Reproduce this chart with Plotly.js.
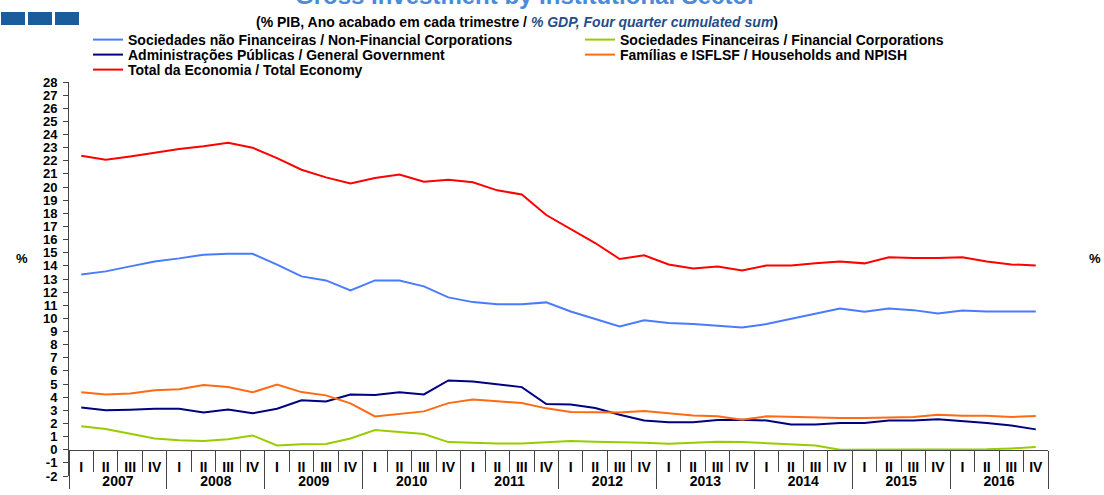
<!DOCTYPE html>
<html><head><meta charset="utf-8">
<script src="https://cdn.plot.ly/plotly-3.0.1.min.js"></script>
<style>html,body{margin:0;padding:0;background:#fff}#chart{width:1104px;height:495px}</style>
</head><body><div id="chart"></div>
<script>
const years = ['2007','2008','2009','2010','2011','2012','2013','2014','2015','2016'];
const quarters = ['I','II','III','IV'];
const nfc = [13.35,13.58,13.96,14.34,14.57,14.85,14.92,14.92,14.09,13.2, 12.89,12.13,12.89,12.89,12.44,11.6,11.24,11.07,11.07,11.22, 10.53,9.95,9.39,9.85,9.65,9.57,9.42,9.31,9.57,9.97, 10.36,10.76,10.51,10.76,10.63,10.38,10.61,10.53,10.53,10.53];
const fc = [1.78,1.57,1.22,0.86,0.73,0.66,0.79,1.09,0.33,0.41, 0.43,0.86,1.5,1.34,1.19,0.58,0.51,0.48,0.48,0.58, 0.66,0.61,0.58,0.53,0.46,0.53,0.61,0.58,0.48,0.41, 0.33,0.0,0.0,0.0,0.03,0.03,0.03,0.03,0.1,0.2];
const gg = [3.22,3.0,3.05,3.12,3.12,2.84,3.07,2.77,3.12,3.76, 3.68,4.21,4.16,4.37,4.21,5.28,5.2,4.97,4.77,3.48, 3.45,3.17,2.66,2.23,2.1,2.1,2.26,2.28,2.23,1.93, 1.93,2.03,2.03,2.23,2.23,2.33,2.2,2.03,1.85,1.55];
const hh = [4.37,4.21,4.29,4.52,4.6,4.92,4.77,4.37,4.97,4.39, 4.14,3.53,2.54,2.71,2.92,3.55,3.83,3.7,3.55,3.15, 2.87,2.85,2.84,2.94,2.79,2.61,2.54,2.28,2.54,2.49, 2.49,2.41,2.41,2.46,2.49,2.66,2.59,2.59,2.49,2.56];
const total = [22.39,22.08,22.33,22.64,22.9,23.1,23.38,23.0,22.2,21.32, 20.74,20.28,20.69,20.96,20.41,20.56,20.36,19.75,19.44,17.87, 16.8,15.74,14.52,14.8,14.11,13.8,13.96,13.65,14.03,14.03, 14.19,14.34,14.19,14.65,14.59,14.59,14.65,14.34,14.11,14.03];
const names = ['Sociedades não Financeiras / Non-Financial Corporations','Sociedades Financeiras / Financial Corporations','Administrações Públicas / General Government','Famílias e ISFLSF / Households and NPISH','Total da Economia / Total Economy'];
const colors = ['#4a7bff','#99cc00','#000080','#ff6a13','#ff0000'];

const xYears = [], xQ = [];
years.forEach(y => quarters.forEach(q => { xYears.push(y); xQ.push(q); }));

const L=69, R=1048, T=82, B=476, pw=R-L, ph=B-T;
const px = x => (x-L)/pw, py = y => (B-y)/ph;

const F = 'Liberation Sans, Arial, sans-serif';
const legendIds = ['legend','legend2','legend3','legend4','legend5'];
const legendPos = [[88,40],[580,40],[88,55],[580,55],[88,70]];

const series = [nfc, fc, gg, hh, total];
const traces = series.map((v,i) => ({
  x: [xYears, xQ], y: v, type: 'scatter', mode: 'lines', name: names[i],
  line: {color: colors[i], width: 2}, hoverinfo: 'skip', legend: legendIds[i]
}));

const tickFont = {family: F, size: 13, color: '#000', weight: 'bold'};
const leftTicks = []; for (let v=-2; v<=28; v++) leftTicks.push(v);
const rightTicks = []; for (let v=0; v<=28; v++) rightTicks.push(v);

const layout = {
  width: 1104, height: 495,
  margin: {l: L, r: 1104-R, t: T, b: 495-B, autoexpand: false},
  paper_bgcolor: '#fff', plot_bgcolor: '#fff',
  showlegend: true,
  title: {text: "(% PIB, Ano acabado em cada trimestre / <i><span style='color:#1f4e8c'>% GDP, Four quarter cumulated sum</span></i>)",
    x: 517/1104, xanchor: 'center', xref: 'container', y: 1-22/495, yanchor: 'middle', yref: 'container',
    font: {family: F, size: 14, color: '#000', weight: 'bold'}},
  xaxis: {type: 'multicategory', anchor: 'free', position: 2/30, range: [-0.5, 39.5], autorange: false,
    showline: true, linecolor: '#444', linewidth: 1, ticks: 'outside', ticklen: 21, tickcolor: '#444',
    tickson: 'boundaries', showdividers: true, dividercolor: '#444', dividerwidth: 1, ticklabelstandoff: 4,
    showgrid: false, zeroline: false, tickfont: {family: F, size: 14, color: '#000', weight: 'bold'}, automargin: false},
  yaxis: {range: [-2, 28], tickmode: 'array', tickvals: leftTicks, ticktext: leftTicks.map(String),
    showline: true, linecolor: '#444', linewidth: 1, ticks: 'outside', ticklen: 5, tickcolor: '#444', ticklabelstandoff: 3,
    showgrid: false, zeroline: false, tickfont: tickFont, automargin: false},
  yaxis2: {range: [0, 28], overlaying: 'y', side: 'right', anchor: 'x', tickmode: 'array',
    tickvals: rightTicks, ticktext: rightTicks.map(String), ticklabelstandoff: 6,
    showline: true, linecolor: '#444', linewidth: 1, ticks: 'outside', ticklen: 5, tickcolor: '#444',
    showgrid: false, zeroline: false, tickfont: tickFont, automargin: false},
  yaxis3: {range: [-2, 28], overlaying: 'y', side: 'left', anchor: 'x', tickmode: 'array', tickvals: leftTicks,
    showticklabels: false, ticks: 'inside', ticklen: 5, tickcolor: '#444', showline: false, showgrid: false, zeroline: false},
  yaxis4: {range: [0, 28], overlaying: 'y', side: 'right', anchor: 'x', tickmode: 'array', tickvals: rightTicks,
    showticklabels: false, ticks: 'inside', ticklen: 5, tickcolor: '#444', showline: false, showgrid: false, zeroline: false},
  annotations: [
    {text: '%', xref: 'paper', yref: 'paper', x: px(14), y: py(258), xanchor: 'left', showarrow: false,
     font: {family: F, size: 13, color: '#000', weight: 'bold'}},
    {text: '%', xref: 'paper', yref: 'paper', x: px(1103), y: py(258), xanchor: 'right', showarrow: false,
     font: {family: F, size: 13, color: '#000', weight: 'bold'}},
    {text: 'Gross Investment by Institutional Sector', xref: 'paper', yref: 'paper', x: px(525), y: py(11),
     xanchor: 'center', yanchor: 'bottom', showarrow: false,
     font: {family: F, size: 24, color: '#4a8ad8', weight: 'bold'}}
  ],
  shapes: [0,1,2].map(i => ({type: 'rect', xref: 'paper', yref: 'paper',
    x0: px(1 + i*27), x1: px(25 + i*27), y0: py(25), y1: py(12),
    fillcolor: '#1b5c9c', line: {width: 0}}))
};
legendIds.forEach((id, i) => {
  layout[id] = {orientation: 'v', x: px(legendPos[i][0]), y: py(legendPos[i][1]), xanchor: 'left', yanchor: 'middle',
    itemwidth: 30, bgcolor: 'rgba(0,0,0,0)', borderwidth: 0,
    font: {family: F, size: 14, color: '#000', weight: 'bold'}};
});

Plotly.newPlot('chart', traces, layout, {staticPlot: true, displayModeBar: false});
</script></body></html>
